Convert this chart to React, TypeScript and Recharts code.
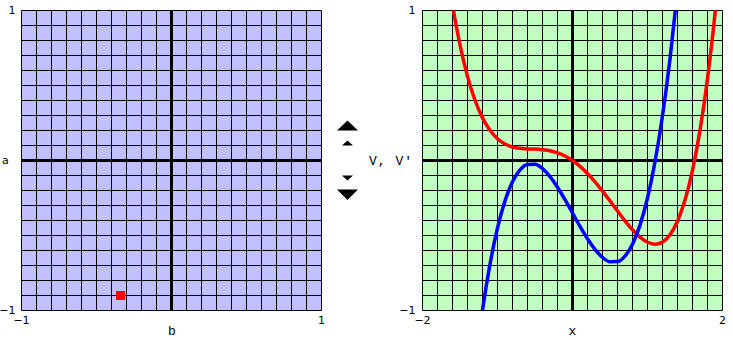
import React from "react";
import {
  ScatterChart,
  Scatter,
  LineChart,
  Line,
  XAxis,
  YAxis,
  CartesianGrid,
  ReferenceLine,
} from "recharts";

// grid ticks (every tenth of the range)
const unitTicks = [-1, -0.9, -0.8, -0.7, -0.6, -0.5, -0.4, -0.3, -0.2, -0.1, 0, 0.1, 0.2, 0.3, 0.4, 0.5, 0.6, 0.7, 0.8, 0.9, 1];
const xTicks = [-2, -1.8, -1.6, -1.4, -1.2, -1, -0.8, -0.6, -0.4, -0.2, 0, 0.2, 0.4, 0.6, 0.8, 1, 1.2, 1.4, 1.6, 1.8, 2];

// selected parameter point (b, a)
const paramB = [-0.34];
const paramA = [-0.9];

// potential V(x), red
const vX = [-1.7, -1.6, -1.5, -1.4, -1.3, -1.2, -1.1, -1.0, -0.9, -0.8, -0.7, -0.6, -0.5, -0.4, -0.3, -0.2, -0.1, 0, 0.1, 0.2, 0.3, 0.4, 0.5, 0.6, 0.7, 0.8, 0.9, 1.0, 1.1, 1.2, 1.3, 1.4, 1.5, 1.6, 1.7, 1.8, 1.9, 2.0];
const vY = [1.374, 1.038, 0.771, 0.561, 0.402, 0.284, 0.201, 0.145, 0.11, 0.09, 0.081, 0.077, 0.076, 0.072, 0.065, 0.051, 0.03, 0, -0.039, -0.087, -0.142, -0.204, -0.269, -0.337, -0.402, -0.462, -0.511, -0.545, -0.558, -0.544, -0.495, -0.405, -0.264, -0.066, 0.201, 0.545, 0.978, 1.51];

// derivative V'(x), blue
const dvX = [-1.3, -1.2, -1.1, -1.0, -0.9, -0.8, -0.7, -0.6, -0.5, -0.4, -0.3, -0.2, -0.1, 0, 0.1, 0.2, 0.3, 0.4, 0.5, 0.6, 0.7, 0.8, 0.9, 1.0, 1.1, 1.2, 1.3, 1.4];
const dvY = [-1.377, -0.998, -0.691, -0.45, -0.269, -0.142, -0.063, -0.026, -0.025, -0.054, -0.107, -0.178, -0.261, -0.35, -0.439, -0.522, -0.593, -0.646, -0.675, -0.674, -0.637, -0.558, -0.431, -0.25, -0.009, 0.298, 0.677, 1.134];

const pointData = paramB.map((b, i) => ({ b, a: paramA[i] }));
const vData = vX.map((x, i) => ({ x, v: vY[i] }));
const dvData = dvX.map((x, i) => ({ x, dv: dvY[i] }));

const tickFont = { fill: "#000", fontSize: 11, fontFamily: "DejaVu Sans" };
const labelFont = { fontSize: 13, fontFamily: "Liberation Mono", fill: "#000" };

const endLabels = (lo: number, hi: number) => (v: number) =>
  v === lo ? "\u2212" + Math.abs(lo) : v === hi ? String(hi) : "";

const margin = { top: 10.5, right: 18.5, bottom: 9.5, left: 0 };

function Square(props: any) {
  const { cx, cy } = props;
  return <rect x={cx - 4.5} y={cy - 4.5} width={9} height={9} fill="#ff0000" />;
}

export default function App() {
  return (
    <div style={{ position: "absolute", left: 0, top: 0, width: 733, height: 340, background: "#fff", overflow: "hidden" }}>
      <div style={{ position: "absolute", left: 0, top: 0 }}>
        <ScatterChart width={340} height={340} margin={margin}>
          <CartesianGrid stroke="#000" strokeWidth={1} fill="#c0c0ff" fillOpacity={1} />
          <XAxis
            type="number"
            dataKey="b"
            domain={[-1, 1]}
            ticks={unitTicks}
            interval={0}
            height={20}
            tickSize={0}
            tickMargin={6}
            axisLine={false}
            tickLine={false}
            tick={tickFont}
            tickFormatter={endLabels(-1, 1)}
          />
          <YAxis
            type="number"
            dataKey="a"
            domain={[-1, 1]}
            ticks={unitTicks}
            interval={0}
            width={21.5}
            tickSize={0}
            tickMargin={6}
            axisLine={false}
            tickLine={false}
            tick={tickFont}
            tickFormatter={endLabels(-1, 1)}
          />
          <ReferenceLine x={0} stroke="#000" strokeWidth={3} />
          <ReferenceLine y={0} stroke="#000" strokeWidth={3} />
          <Scatter data={pointData} shape={Square} isAnimationActive={false} />
        </ScatterChart>
      </div>
      <div style={{ position: "absolute", left: 381, top: 0 }}>
        <LineChart width={352} height={340} margin={{ ...margin, right: 10.5 }}>
          <CartesianGrid stroke="#000" strokeWidth={1} fill="#c0ffc0" fillOpacity={1} />
          <XAxis
            type="number"
            dataKey="x"
            domain={[-2, 2]}
            allowDataOverflow
            ticks={xTicks}
            interval={0}
            height={20}
            tickSize={0}
            tickMargin={6}
            axisLine={false}
            tickLine={false}
            tick={tickFont}
            tickFormatter={endLabels(-2, 2)}
          />
          <YAxis
            type="number"
            domain={[-1, 1]}
            allowDataOverflow
            ticks={unitTicks}
            interval={0}
            width={41.5}
            tickSize={0}
            tickMargin={7}
            axisLine={false}
            tickLine={false}
            tick={tickFont}
            tickFormatter={endLabels(-1, 1)}
          />
          <ReferenceLine x={0} stroke="#000" strokeWidth={3} />
          <ReferenceLine y={0} stroke="#000" strokeWidth={3} />
          <Line data={vData} dataKey="v" type="monotone" stroke="#ff0000" strokeWidth={3.5} dot={false} isAnimationActive={false} />
          <Line data={dvData} dataKey="dv" type="monotone" stroke="#0000ff" strokeWidth={3.5} dot={false} isAnimationActive={false} />
        </LineChart>
      </div>
      <svg width={733} height={340} style={{ position: "absolute", left: 0, top: 0, pointerEvents: "none" }}>
        <text x={2} y={163.5} fontSize={11} fontFamily="DejaVu Sans" fill="#000">a</text>
        <text x={172} y={335} textAnchor="middle" {...labelFont}>b</text>
        <text x={572.5} y={335} textAnchor="middle" {...labelFont}>x</text>
        <text x={369} y={165} {...labelFont} letterSpacing={1}>V, V'</text>
        <polygon points="347.5,120.5 358,130.5 337,130.5" fill="#000" />
        <polygon points="347.5,140.5 353,145.5 342,145.5" fill="#000" />
        <polygon points="342,175.5 353,175.5 347.5,180.5" fill="#000" />
        <polygon points="337,189.5 358,189.5 347.5,200" fill="#000" />
      </svg>
    </div>
  );
}
